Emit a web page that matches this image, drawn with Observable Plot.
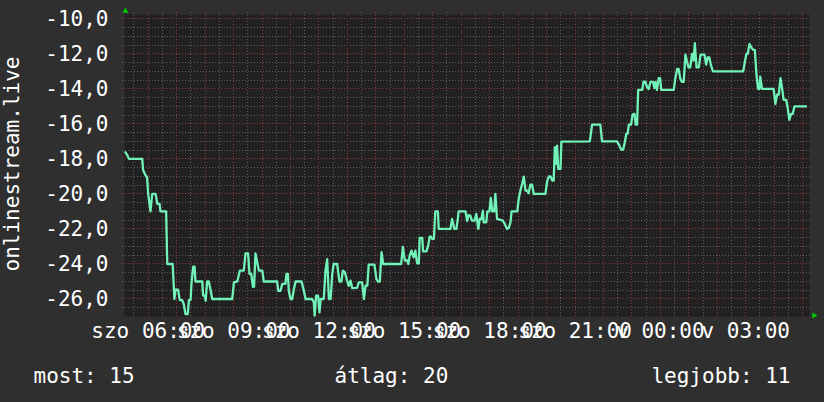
<!DOCTYPE html>
<html><head><meta charset="utf-8">
<script src="https://cdn.jsdelivr.net/npm/d3@7"></script>
<script src="https://cdn.jsdelivr.net/npm/@observablehq/plot@0.6"></script>
<style>
html,body{margin:0;padding:0;background:#2f2f2f;}
#chart{width:824px;height:402px;position:relative;}
</style></head><body><div id="chart"></div>
<script>
// readings: [hour since Saturday 00:00, value]
const readings = [
[5.20,-17.62],[5.27,-17.8],[5.32,-18.0],[5.79,-18.0],[5.82,-18.63],[5.91,-18.95],[5.96,-19.05],[6.00,-20.0],
[6.08,-21.0],[6.14,-20.0],[6.26,-20.0],[6.32,-20.57],[6.40,-20.57],[6.43,-21.0],[6.63,-21.0],[6.67,-24.0],
[6.86,-24.0],[6.92,-26.0],[6.96,-25.47],[7.05,-25.47],[7.11,-26.06],[7.19,-26.06],[7.25,-26.29],[7.31,-26.86],
[7.39,-26.86],[7.43,-26.06],[7.49,-26.06],[7.52,-25.14],[7.58,-24.15],[7.63,-24.15],[7.66,-25.0],[7.90,-25.0],
[7.93,-25.81],[7.99,-25.81],[8.02,-26.1],[8.07,-25.0],[8.13,-25.0],[8.19,-25.47],[8.25,-26.0],[8.95,-26.0],
[8.99,-25.47],[9.01,-25.05],[9.13,-25.0],[9.22,-24.38],
[9.36,-24.38],[9.42,-23.4],[9.51,-23.4],[9.56,-24.57],[9.62,-24.57],[9.68,-25.3],[9.72,-25.3],[9.77,-23.4],
[9.83,-23.9],[9.89,-24.38],[10.01,-24.38],[10.06,-25.0],[10.53,-25.0],[10.57,-25.53],[10.65,-25.53],[10.71,-25.14],
[10.82,-25.14],[10.86,-24.57],[10.91,-24.57],[10.94,-25.53],[11.00,-26.0],[11.06,-26.0],[11.12,-25.43],[11.18,-25.0],
[11.39,-25.0],[11.47,-25.53],[11.53,-26.0],[11.76,-26.0],[11.82,-26.19],[11.85,-26.95],[11.90,-25.81],[11.97,-25.81],
[12.02,-26.76],[12.06,-26.0],[12.17,-26.0],[12.23,-24.38],[12.29,-23.72],[12.35,-26.0],[12.41,-26.0],[12.47,-24.53],
[12.52,-24.0],[12.64,-24.0],[12.72,-25.0],[12.79,-25.0],[12.84,-24.38],[12.91,-24.47],[12.99,-24.95],[13.05,-25.25],
[13.11,-24.95],[13.17,-25.38],
[13.34,-25.37],[13.40,-25.05],[13.52,-25.05],[13.58,-26.0],[13.64,-25.24],[13.70,-25.24],[13.75,-24.04],[13.95,-24.04],
[14.02,-24.86],[14.07,-25.0],[14.14,-25.0],[14.20,-23.33],[14.26,-24.0],[14.89,-24.0],[14.95,-23.03],[15.02,-23.8],
[15.10,-23.8],[15.14,-24.0],[15.19,-23.52],[15.25,-23.24],[15.33,-23.62],[15.39,-23.24],[15.45,-23.97],[15.51,-23.97],
[15.54,-22.51],[15.63,-22.51],[15.66,-23.28],[15.78,-23.28],[15.84,-22.95],[15.89,-22.44],[15.94,-22.44],[15.98,-22.57],
[16.04,-22.57],[16.09,-21.0],[16.18,-21.0],[16.21,-22.0],[16.62,-22.0],[16.68,-21.43],[16.76,-22.0],[16.83,-22.0],
[16.88,-21.43],[16.91,-21.0],[17.15,-21.0],[17.21,-21.55],[17.26,-21.2],[17.32,-21.24],[17.38,-21.52],[17.47,-21.52],
[17.53,-21.14],[17.60,-22.0],[17.65,-21.43],[17.71,-21.43],[17.76,-20.95],[17.79,-21.62],[17.88,-21.62],[17.92,-21.0],
[17.99,-21.0],[18.04,-20.23],[18.09,-21.0],[18.16,-21.0],[18.20,-20.0],[18.26,-21.43],[18.38,-21.48],[18.46,-21.52],
[18.53,-21.71],[18.61,-22.0],[18.67,-21.95],[18.73,-21.62],[18.77,-21.0],[18.97,-21.0],[19.02,-20.29],[19.08,-19.81],
[19.14,-19.43],[19.20,-19.01],[19.26,-19.81],[19.32,-19.81],[19.37,-19.96],[19.43,-19.47],[19.49,-19.47],[19.55,-20.0],
[19.96,-20.0],[20.02,-19.28],[20.08,-19.0],[20.14,-19.0],[20.20,-19.24],[20.25,-19.24],[20.29,-17.33],[20.34,-18.28],
[20.37,-17.24],[20.41,-18.57],[20.49,-18.57],[20.52,-17.01],[21.52,-17.0],[21.60,-16.04],[21.89,-16.04],[21.95,-17.0],
[22.48,-17.0],[22.56,-17.24],[22.62,-17.47],[22.69,-17.47],[22.75,-17.05],[22.80,-16.57],[22.85,-16.55],[22.89,-16.04],
[22.97,-16.04],[23.02,-15.47],[23.09,-15.43],[23.13,-16.04],[23.18,-16.04],[23.22,-14.06],[23.36,-14.06],[23.41,-13.58],
[23.47,-13.58],[23.53,-13.9],[23.59,-14.0],[23.65,-13.6],[23.74,-13.6],[23.79,-13.95],[23.83,-13.6],[23.88,-14.06],
[23.94,-13.39],[23.99,-13.39],[24.03,-14.06],[24.47,-14.06],[24.52,-13.43],[24.59,-12.86],[24.64,-12.86],[24.70,-13.43],
[24.76,-13.6],[24.82,-13.6],[24.88,-12.04],[24.94,-12.48],[24.99,-12.77],[25.05,-12.77],[25.11,-12.0],[25.17,-12.38],
[25.21,-11.39],[25.27,-12.77],[25.35,-12.77],[25.41,-12.04],[25.55,-12.04],[25.61,-12.61],[25.66,-12.2],[25.72,-12.2],
[25.78,-12.67],[25.85,-13.0],[26.91,-13.0],[26.96,-12.54],[27.02,-12.0],[27.07,-12.0],[27.13,-11.43],[27.19,-11.62],
[27.26,-11.77],[27.32,-11.77],[27.37,-13.05],[27.43,-14.0],[27.48,-14.0],[27.51,-13.3],[27.57,-14.0],[27.98,-14.0],
[28.04,-14.86],[28.10,-14.33],[28.16,-14.33],[28.22,-13.39],[28.28,-14.0],[28.33,-14.63],[28.42,-14.63],[28.47,-15.05],
[28.53,-15.77],[28.59,-15.43],[28.65,-15.43],[28.71,-15.0],[29.12,-15.0]
];
const xTicks = [6, 9, 12, 15, 18, 21, 24, 27];
const xTickLabels = ["szo 06:00","szo 09:00","szo 12:00","szo 15:00","szo 18:00","szo 21:00","v 00:00","v 03:00"];
const yTicks = [-26, -24, -22, -20, -18, -16, -14, -12, -10];
const yTitle = "onlinestream.live";
const statLabels = ["most", "átlag", "legjobb"];
const statValues = [15, 20, 11];
const xDomain = [5.167, 29.24];
const yDomain = [-27.0, -9.75];

const data = readings.map(([h, v]) => ({h, v}));
const majorX = d3.range(6, 29.5, 1);
const minorX = d3.range(5.5, 29.3, 1);
const majorY = yTicks;
const minorY = d3.range(-26.5, -9.9, 0.5).filter(v => !majorY.includes(v));

const font = "DejaVu Sans Mono";
const white = "#ffffff";
const txt = (s, o) => Plot.text([s], {text: d => d, fill: white, fontFamily: font, fontSize: 21, lineAnchor: "bottom", ...o});
const grid = {strokeDasharray: "1,2", shapeRendering: "crispEdges"};

const chart = Plot.plot({
  width: 824, height: 402,
  marginLeft: 124, marginRight: 15, marginTop: 14, marginBottom: 86,
  style: {background: "#2f2f2f", color: white, fontFamily: font, fontSize: "21px"},
  x: {domain: xDomain, ticks: xTicks, tickFormat: d => xTickLabels[xTicks.indexOf(d)], tickSize: 0, tickPadding: 7, label: null},
  y: {domain: yDomain, ticks: yTicks, tickFormat: d => d.toFixed(1).replace(".", ","), tickSize: 0, tickPadding: 16, label: null},
  marks: [
    Plot.frame({fill: "#212121", stroke: null}),
    Plot.ruleX(minorX, {stroke: "#5e5e5e", ...grid, insetTop: -2, insetBottom: -2}),
    Plot.ruleY(minorY, {stroke: "#5e5e5e", ...grid, insetLeft: -2, insetRight: -2}),
    Plot.ruleX(majorX, {stroke: "#8c3a3a", ...grid, insetTop: -2, insetBottom: -2}),
    Plot.ruleY(majorY, {stroke: "#8c3a3a", ...grid, insetLeft: -2, insetRight: -2}),
    Plot.line(data, {x: "h", y: "v", stroke: "#70f2b8", strokeWidth: 2.3}),
    Plot.dot([0], {frameAnchor: "top-left", dx: 1, dy: -3.5, symbol: "triangle", r: 2.2, fill: "#00cc00", stroke: null}),
    Plot.dot([0], {frameAnchor: "bottom-right", dx: 4.5, dy: -1, symbol: "triangle", r: 2.2, rotate: 90, fill: "#00cc00", stroke: null}),
    txt(yTitle, {frameAnchor: "left", dx: -105.5, dy: -1.5, rotate: -90, textAnchor: "middle"}),
    txt(`${statLabels[0]}: ${statValues[0]}`, {frameAnchor: "bottom-left", dx: -91, dy: 66, textAnchor: "start"}),
    txt(`${statLabels[1]}: ${statValues[1]}`, {frameAnchor: "bottom-left", dx: 210, dy: 66, textAnchor: "start"}),
    txt(`${statLabels[2]}: ${statValues[2]}`, {frameAnchor: "bottom-right", dx: -19, dy: 66, textAnchor: "end"})
  ]
});
document.getElementById("chart").appendChild(chart);
</script>
</body></html>
